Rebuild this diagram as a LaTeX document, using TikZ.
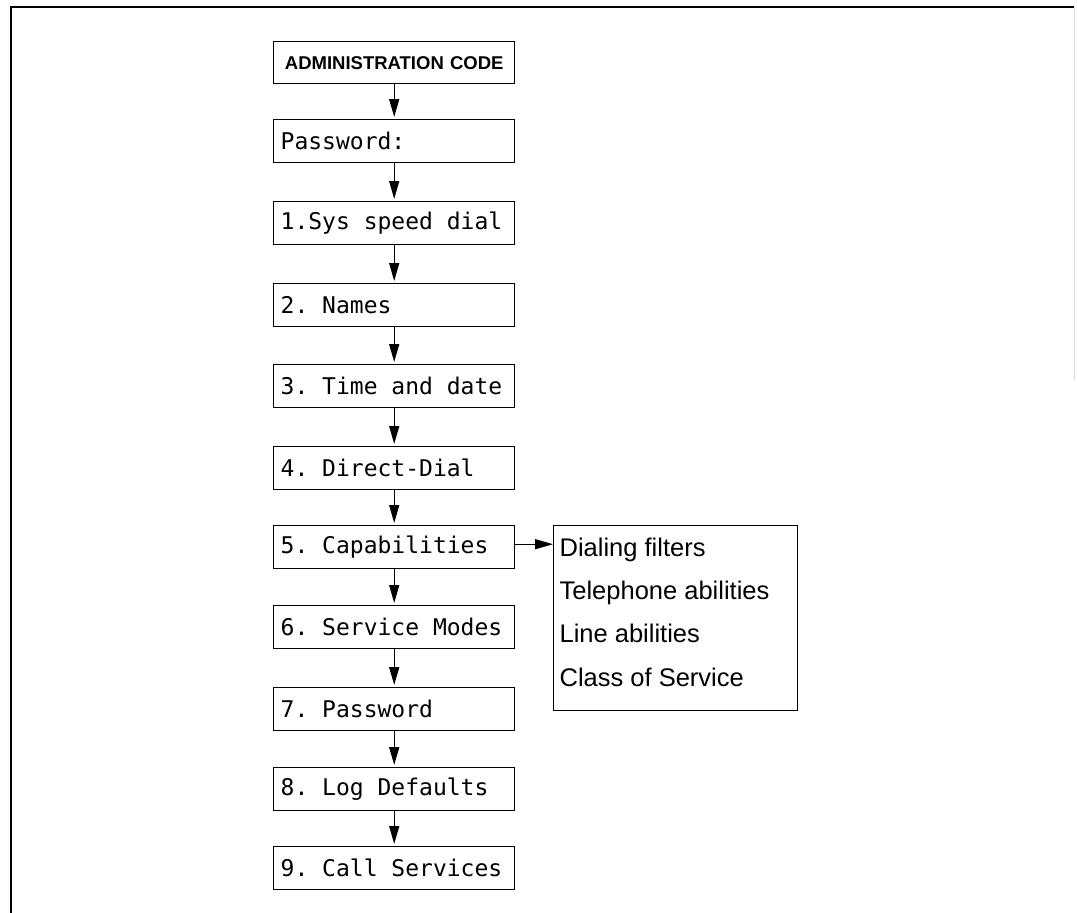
\documentclass[tikz,border=0pt]{standalone}
\usepackage{fontspec}
\setmainfont{Liberation Sans}
\newfontfamily\monof{DejaVu Sans Mono}[WordSpace={1,0,0}]
\usetikzlibrary{arrows.meta}
\begin{document}
\begin{tikzpicture}[x=1pt,y=-1pt,
  stepbox/.style={draw, line width=1.4pt, anchor=north west, minimum height=43pt,
    text width=227pt, inner xsep=7pt, inner ysep=0pt, align=flush left,
    font=\monof\fontsize{23}{28}\selectfont\frenchspacing},
  flow/.style={line width=1.4pt, -{Triangle[length=18pt,width=10pt]}, shorten >=2pt}]
\useasboundingbox (0,0) rectangle (1077,913);
% outer frame
\draw[line width=1.3pt] (11,913) -- (11,7) -- (1074,7);
\draw[black!15, line width=1pt] (1074,7) -- (1074,380);
% boxes
\node[stepbox, align=center, font=\bfseries\fontsize{18.5}{20}\selectfont, minimum height=42pt] (admin) at (273,41) {ADMINISTRATION CODE};
\node[stepbox] (pw) at (273,119) {Password:};
\node[stepbox] (s1) at (273,201) {1.Sys speed dial};
\node[stepbox] (s2) at (273,283) {2. Names};
\node[stepbox] (s3) at (273,364) {3. Time and date};
\node[stepbox] (s4) at (273,446) {4. Direct-Dial};
\node[stepbox] (s5) at (273,525) {5. Capabilities};
\node[stepbox] (s6) at (273,605) {6. Service Modes};
\node[stepbox] (s7) at (273,687) {7. Password};
\node[stepbox] (s8) at (273,767) {8. Log Defaults};
\node[stepbox] (s9) at (273,846) {9. Call Services};
% capabilities list
\node[draw, line width=1.2pt, anchor=north west, minimum height=185pt, text width=232pt,
  inner xsep=6pt, align=flush left, font=\fontsize{25.5}{43.3}\selectfont] (opts) at (553,525)
  {Dialing filters\\Telephone abilities\\Line abilities\\Class of Service\rule[-12pt]{0pt}{12pt}};
% connectors
\draw[flow] (admin) -- (pw);
\draw[flow] (pw) -- (s1);
\draw[flow] (s1) -- (s2);
\draw[flow] (s2) -- (s3);
\draw[flow] (s3) -- (s4);
\draw[flow] (s4) -- (s5);
\draw[flow] (s5) -- (s6);
\draw[flow] (s6) -- (s7);
\draw[flow] (s7) -- (s8);
\draw[flow] (s8) -- (s9);
\draw[flow, shorten >=0pt] ([yshift=3pt]s5.east) -- ([yshift=3pt]opts.west |- s5.east);
\end{tikzpicture}
\end{document}
